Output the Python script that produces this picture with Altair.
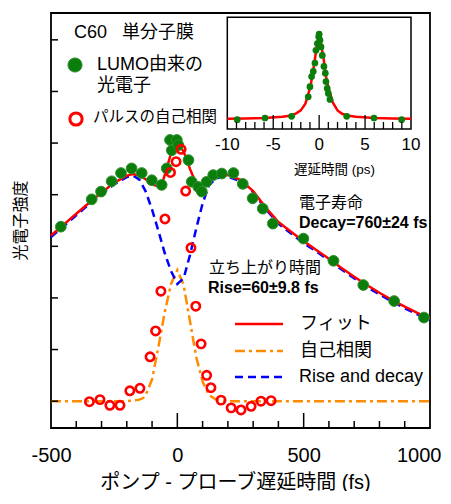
import altair as alt
import pandas as pd

FONT = "Liberation Sans, Noto Sans CJK JP, sans-serif"

# ---------------- data ----------------
# LUMO photoelectrons (fs, intensity)
green_t = [-461, -339, -302, -260, -223, -181, -141, -101, -62, -42, -29, -22, -2, 4,
           44, 57, 83, 97, 116, 142, 176, 222, 259, 298, 338, 378, 499, 618, 736, 858, 976]
green_v = [3.38, 3.91, 4.06, 4.26, 4.42, 4.51, 4.42, 4.28, 4.19, 4.51, 5.06, 4.86, 5.06, 4.96,
           4.67, 4.25, 4.15, 4.06, 4.25, 4.38, 4.41, 4.42, 4.21, 3.93, 3.73, 3.44, 3.15, 2.72, 2.25, 1.94, 1.62]

# pulse autocorrelation (fs, intensity)
red_t = [-348, -306, -267, -227, -188, -148, -108, -86, -65, -49, -27, -5, 15, 33, 54, 73,
         94, 116, 133, 173, 213, 252, 292, 331, 371]
red_v = [-0.01, 0.03, -0.08, -0.08, 0.20, 0.25, 0.86, 1.36, 2.13, 3.53, 4.43, 4.64, 4.88, 4.07,
         2.97, 1.84, 1.11, 0.50, 0.26, 0.02, -0.13, -0.17, -0.10, 0.00, 0.01]

# fit curve (red)
fit_t = [-500, -450, -400, -350, -300, -250, -200, -175, -150, -125, -100, -75, -60, -50, -25, -10,
         0, 10, 25, 40, 50, 60, 75, 90, 100, 125, 150, 175, 200, 250, 300, 350, 400, 450, 500,
         550, 600, 650, 700, 750, 800, 850, 900, 950, 1000]
fit_v = [3.21, 3.42, 3.63, 3.84, 4.04, 4.23, 4.37, 4.40, 4.37, 4.30, 4.20, 4.16, 4.22, 4.38, 4.80, 4.95,
         4.97, 4.95, 4.83, 4.65, 4.50, 4.38, 4.24, 4.19, 4.18, 4.27, 4.35, 4.38, 4.38, 4.29, 4.07, 3.75,
         3.47, 3.28, 3.10, 2.93, 2.76, 2.58, 2.41, 2.25, 2.10, 1.96, 1.83, 1.71, 1.60]

# rise and decay component (blue dashed)
rd_t = [-500, -450, -400, -350, -300, -250, -200, -175, -150, -125, -100, -75, -50, -25, 0, 25, 50,
        75, 100, 125, 150, 175, 200, 250, 300, 350, 400, 450, 500, 550, 600, 650, 700, 750, 800,
        850, 900, 950, 1000]
rd_v = [3.18, 3.39, 3.60, 3.81, 4.01, 4.20, 4.34, 4.37, 4.29, 4.06, 3.71, 3.30, 2.87, 2.52, 2.27,
        2.38, 2.83, 3.35, 3.83, 4.18, 4.30, 4.35, 4.35, 4.26, 4.05, 3.72, 3.44, 3.25, 3.06, 2.90,
        2.73, 2.55, 2.38, 2.21, 2.07, 1.93, 1.80, 1.68, 1.57]

# autocorrelation fit (orange dash-dot)
ac_t = [-500, -200, -175, -150, -135, -125, -100, -75, -50, -25, 0, 25, 50, 75, 100, 125, 150,
        175, 200, 1000]
ac_v = [0.0, 0.0, 0.01, 0.03, 0.06, 0.12, 0.42, 1.05, 1.72, 2.27, 2.54, 2.25, 1.55, 0.85, 0.38,
        0.12, 0.04, 0.01, 0.0, 0.0]

# inset (ps)
in_green_t = [-8.92, -5.9, -3.0, -1.19, -1.0, -0.82, -0.64, -0.46, -0.35, -0.2, -0.05, 0.0, 0.09,
              0.2, 0.34, 0.52, 0.67, 0.74, 0.88, 1.0, 1.18, 3.0, 5.97, 8.98]
in_green_v = [-0.01, 0.01, 0.03, 0.26, 0.38, 0.50, 0.56, 0.66, 0.81, 0.89, 0.97, 1.0, 0.93,
              0.85, 0.75, 0.62, 0.54, 0.44, 0.36, 0.30, 0.23, 0.03, 0.01, -0.01]
in_fit_t = [-10, -8, -6, -4, -3, -2.5, -2, -1.5, -1.0, -0.75, -0.5, -0.25, 0, 0.25, 0.5, 0.75,
            1.0, 1.5, 2, 2.5, 3, 4, 6, 8, 10]
in_fit_v = [0.0, 0.005, 0.01, 0.025, 0.04, 0.065, 0.10, 0.18, 0.36, 0.50, 0.68, 0.86, 1.0, 0.86,
            0.70, 0.50, 0.37, 0.19, 0.10, 0.06, 0.04, 0.025, 0.01, 0.005, 0.0]
in_ticklabels = [-10, -5, 0, 5, 10]

main_minor_ticks = [v for v in range(-400, 1000, 100) if v % 500 != 0]
main_major_ticks = [0, 500]
main_y_ticks = [0, 1, 2, 3, 4, 5, 6, 7]
in_minor_ticks = [v for v in range(-9, 10) if v % 5 != 0]
in_major_ticks = [-5, 0, 5]

W, H = 379, 415

# ---------------- scales / axes ----------------
xs = alt.Scale(domain=[-500, 1000], nice=False, zero=False)
ys = alt.Scale(domain=[-0.52, 7.52], nice=False, zero=False)
x_axis = alt.Axis(title="ポンプ - プローブ遅延時間 (fs)", values=[-500, 0, 500, 1000], ticks=False,
                  domain=False, grid=False, labelFontSize=20, labelPadding=17, labelFont=FONT,
                  labelColor="black", labelFlush=False, labelOverlap=False,
                  labelExpr="'' + datum.value",
                  labelAlign={"condition": {"test": "datum.value == 1000", "value": "right"}, "value": "center"},
                  labelOffset={"condition": {"test": "datum.value == 1000", "value": 11}, "value": 0},
                  titleFontSize=20, titleFont=FONT, titleFontWeight="normal", titleColor="black",
                  titleX=184, titleY=54, titleBaseline="middle", titleAlign="center")
y_axis = alt.Axis(title="光電子強度", labels=False, ticks=False, domain=False, grid=False,
                  titleFontSize=16, titleFont=FONT, titleFontWeight="normal", titleColor="black",
                  titleAngle=270, titleX=-31, titleY=207, titleBaseline="middle", titleAlign="center")


def X(f):
    return alt.X(f, type="quantitative", scale=xs, axis=x_axis)


def Y(f):
    return alt.Y(f, type="quantitative", scale=ys, axis=y_axis)


one = pd.DataFrame({"d": [0]})

ac_df = pd.DataFrame({"t": ac_t, "v": ac_v})
rd_df = pd.DataFrame({"t": rd_t, "v": rd_v})
fit_df = pd.DataFrame({"t": fit_t, "v": fit_v})
green_df = pd.DataFrame({"t": green_t, "v": green_v})
red_df = pd.DataFrame({"t": red_t, "v": red_v})

ORANGE = "#ff8c00"
GREEN = "#0a7d0a"

ac_line = alt.Chart(ac_df).mark_line(color=ORANGE, strokeWidth=2.5, strokeDash=[10, 4, 3, 4]).encode(
    x=X("t"), y=Y("v"))
rd_line = alt.Chart(rd_df).mark_line(color="#0000ff", strokeWidth=2.5, strokeDash=[8, 5]).encode(
    x=X("t"), y=Y("v"))
fit_line = alt.Chart(fit_df).mark_line(color="#ff0000", strokeWidth=2.5).encode(x=X("t"), y=Y("v"))
green_pts = alt.Chart(green_df).mark_circle(color=GREEN, size=115, opacity=1, stroke="#2f8f2f",
                                            strokeWidth=1).encode(x=X("t"), y=Y("v"))
red_pts = alt.Chart(red_df).mark_point(shape="circle", filled=False, color="#ff0000", size=70,
                                       strokeWidth=2.6, opacity=1).encode(x=X("t"), y=Y("v"))

minor_x = alt.Chart(pd.DataFrame({"v": main_minor_ticks})).mark_rule(color="black", strokeWidth=1.5).encode(
    x=X("v"), y=alt.value(H), y2=alt.value(H - 7))
major_x = alt.Chart(pd.DataFrame({"v": main_major_ticks})).mark_rule(color="black", strokeWidth=1.5).encode(
    x=X("v"), y=alt.value(H), y2=alt.value(H - 15))
ticks_y = alt.Chart(pd.DataFrame({"v": main_y_ticks})).mark_rule(color="black", strokeWidth=1.5).encode(
    y=Y("v"), x=alt.value(0), x2=alt.value(7))


def txt(s, x, y, size, weight="normal", align="left"):
    return alt.Chart(one).mark_text(text=s, align=align, baseline="middle", fontSize=size, font=FONT,
                                    fontWeight=weight, color="black").encode(x=alt.value(x), y=alt.value(y))


# top-left legend
leg_green = alt.Chart(one).mark_circle(color=GREEN, size=200, opacity=1, stroke="#2f8f2f",
                                       strokeWidth=1).encode(x=alt.value(24), y=alt.value(52))
leg_red = alt.Chart(one).mark_point(shape="circle", filled=False, color="#ff0000", size=150,
                                    strokeWidth=3, opacity=1).encode(x=alt.value(25), y=alt.value(106))
# bottom-right legend
leg_fit = alt.Chart(one).mark_rule(color="#ff0000", strokeWidth=2.5).encode(
    x=alt.value(184), x2=alt.value(232), y=alt.value(311))
leg_ac = alt.Chart(one).mark_rule(color=ORANGE, strokeWidth=2.5, strokeDash=[10, 4, 3, 4]).encode(
    x=alt.value(184), x2=alt.value(232), y=alt.value(338))
leg_rd = alt.Chart(one).mark_rule(color="#0000ff", strokeWidth=2.5, strokeDash=[8, 5]).encode(
    x=alt.value(184), x2=alt.value(232), y=alt.value(364))

texts = [
    txt("C60\u00a0\u00a0\u00a0単分子膜", 23, 20, 18),
    txt("LUMO由来の", 46, 52, 18),
    txt("光電子", 46, 73, 18),
    txt("パルスの自己相関", 42, 104, 15.5),
    txt("電子寿命", 248, 190, 16),
    txt("Decay=760±24 fs", 248, 210, 16, "bold"),
    txt("立ち上がり時間", 158, 255, 16),
    txt("Rise=60±9.8 fs", 157, 275, 16, "bold"),
    txt("フィット", 249, 311, 18),
    txt("自己相関", 249, 338, 18),
    txt("Rise and decay", 248, 364, 18),
]

main = alt.layer(ac_line, rd_line, fit_line, green_pts, red_pts, minor_x, major_x, ticks_y,
                 leg_green, leg_red, leg_fit, leg_ac, leg_rd, *texts)

# ---------------- inset ----------------
ixs = alt.Scale(domain=[-10, 10], range=[176.3, 360], nice=False, zero=False)
iys = alt.Scale(domain=[-0.12, 1.2], range=[116, 4.3], nice=False, zero=False)


def IX(f):
    return alt.X(f, type="quantitative", scale=ixs, axis=None)


def IY(f):
    return alt.Y(f, type="quantitative", scale=iys, axis=None)


frame = alt.Chart(pd.DataFrame({"x0": [-10], "x1": [10], "y0": [-0.12], "y1": [1.2]})).mark_rect(
    fill="white", stroke="black", strokeWidth=1.5).encode(x=IX("x0"), x2="x1", y=IY("y0"), y2="y1")
in_fit = alt.Chart(pd.DataFrame({"t": in_fit_t, "v": in_fit_v})).mark_line(
    color="#ff0000", strokeWidth=2.5).encode(x=IX("t"), y=IY("v"))
in_green = alt.Chart(pd.DataFrame({"t": in_green_t, "v": in_green_v})).mark_circle(
    color=GREEN, size=45, opacity=1).encode(x=IX("t"), y=IY("v"))
in_minor = alt.Chart(pd.DataFrame({"v": in_minor_ticks})).mark_rule(color="black", strokeWidth=1.3).encode(
    x=IX("v"), y=alt.value(116), y2=alt.value(109))
in_major = alt.Chart(pd.DataFrame({"v": in_major_ticks})).mark_rule(color="black", strokeWidth=1.3).encode(
    x=IX("v"), y=alt.value(116), y2=alt.value(102))
in_labels = alt.Chart(pd.DataFrame({"v": in_ticklabels, "lab": [str(v) for v in in_ticklabels]})).mark_text(
    fontSize=17, font=FONT, baseline="middle", align="center", color="black").encode(
    x=IX("v"), y=alt.value(132), text="lab:N")
in_title = txt("遅延時間 (ps)", 243, 157, 13.5)

inset = alt.layer(frame, in_fit, in_green, in_minor, in_major, in_labels, in_title)

chart = alt.layer(main, inset).resolve_scale(x="independent", y="independent").properties(
    width=W, height=H,
    autosize=alt.AutoSizeParams(type="none"),
    padding={"left": 43, "top": 5, "right": 12, "bottom": 63},
    background="white",
).configure_view(stroke="black", strokeWidth=1.8)

chart.save("out.html", embed_options={"renderer": "svg", "actions": False})
